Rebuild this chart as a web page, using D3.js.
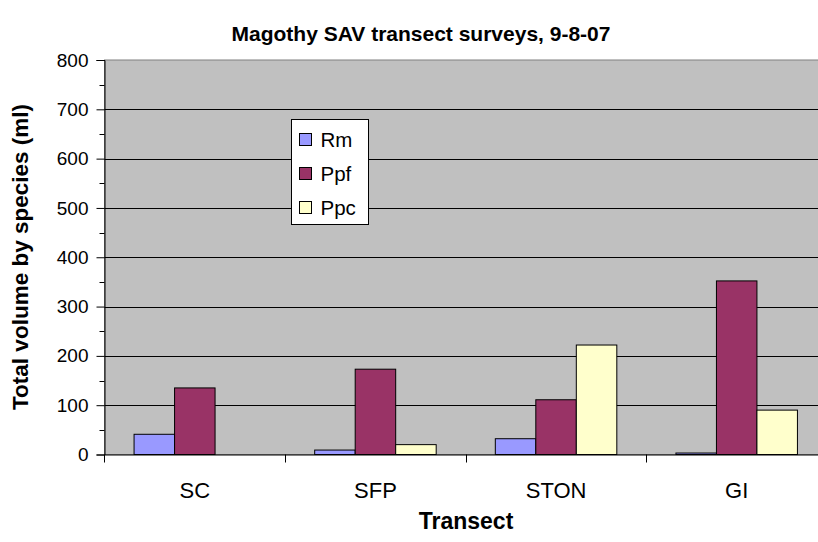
<!DOCTYPE html>
<html>
<head>
<meta charset="utf-8">
<script src="https://cdn.jsdelivr.net/npm/d3@7"></script>
<style>
  body { margin: 0; background: #fff; }
  svg { display: block; font-family: Arial, "Liberation Sans", sans-serif; }
</style>
</head>
<body>
<div id="chart"></div>
<script>
// chart data
var transects = ["SC", "SFP", "STON", "GI"];
var species = ["Rm", "Ppf", "Ppc"];
var rmValues = [41, 9, 32, 3];
var ppfValues = [135, 173, 111, 352];
var ppcValues = [0, 20, 222, 90];
var yTicks = [0, 100, 200, 300, 400, 500, 600, 700, 800];

var colors = { Rm: "#9999FF", Ppf: "#993366", Ppc: "#FFFFCC" };

var width = 818, height = 542;
var margin = { left: 104.5, top: 60, right: 827, bottom: 454.5 };
var font = "Arial, 'Liberation Sans', sans-serif";

var rows = transects.map(function(t, i) {
    return { transect: t, Rm: rmValues[i], Ppf: ppfValues[i], Ppc: ppcValues[i] };
});

var svg = d3.select("#chart").append("svg")
    .attr("width", width)
    .attr("height", height);

var x = d3.scaleBand()
    .domain(transects)
    .range([margin.left, margin.right]);

// excel gap width ~150%
var x1 = d3.scaleBand()
    .domain(species)
    .range([0, x.bandwidth()])
    .paddingOuter(0.73)
    .paddingInner(0);

var y = d3.scaleLinear()
    .domain([0, 800])
    .range([margin.bottom, margin.top]);

// plot background
svg.append("rect")
    .attr("x", margin.left)
    .attr("y", margin.top)
    .attr("width", margin.right - margin.left)
    .attr("height", margin.bottom - margin.top)
    .attr("fill", "#C0C0C0")
    .attr("stroke", "#808080")
    .attr("stroke-width", 1);

// gridlines
svg.append("g")
    .selectAll("line")
    .data(yTicks.slice(1, -1))
    .enter().append("line")
    .attr("x1", margin.left)
    .attr("x2", margin.right)
    .attr("y1", function(d) { return Math.round(y(d)) + 0.5; })
    .attr("y2", function(d) { return Math.round(y(d)) + 0.5; })
    .attr("stroke", "#000")
    .attr("stroke-width", 1);

// bars
var groups = svg.append("g")
    .selectAll("g")
    .data(rows)
    .enter().append("g")
    .attr("transform", function(d) { return "translate(" + x(d.transect) + ",0)"; });

groups.selectAll("rect")
    .data(function(d) { return species.map(function(s) { return { key: s, value: d[s] }; }); })
    .enter().append("rect")
    .filter(function(d) { return d.value > 0; })
    .attr("x", function(d) { return x1(d.key); })
    .attr("y", function(d) { return y(d.value); })
    .attr("width", x1.bandwidth())
    .attr("height", function(d) { return y(0) - y(d.value); })
    .attr("fill", function(d) { return colors[d.key]; })
    .attr("stroke", "#000")
    .attr("stroke-width", 1);

// y axis
var yAxis = svg.append("g")
    .attr("transform", "translate(" + margin.left + ",0)")
    .call(d3.axisLeft(y).tickValues(yTicks).tickSize(8).tickPadding(8).tickFormat(d3.format("d")));
yAxis.select(".domain").attr("stroke", "#000");
yAxis.selectAll("text").attr("font-size", "19px").attr("fill", "#000").attr("font-family", font);

// minor ticks
svg.append("g")
    .selectAll("line")
    .data(yTicks.slice(0, -1).map(function(d) { return d + 50; }))
    .enter().append("line")
    .attr("x1", margin.left - 5)
    .attr("x2", margin.left)
    .attr("y1", function(d) { return Math.round(y(d)) + 0.5; })
    .attr("y2", function(d) { return Math.round(y(d)) + 0.5; })
    .attr("stroke", "#000");

// x axis
var xAxis = svg.append("g")
    .attr("transform", "translate(0," + margin.bottom + ")")
    .call(d3.axisBottom(x).tickSize(0).tickPadding(28));
xAxis.select(".domain").attr("stroke", "#000");
xAxis.selectAll("text").attr("font-size", "22px").attr("fill", "#000").attr("font-family", font);

// category separator ticks
svg.append("g")
    .selectAll("line")
    .data(transects)
    .enter().append("line")
    .attr("x1", function(d) { return Math.round(x(d) + x.bandwidth()) + 0.5; })
    .attr("x2", function(d) { return Math.round(x(d) + x.bandwidth()) + 0.5; })
    .attr("y1", margin.bottom)
    .attr("y2", margin.bottom + 8)
    .attr("stroke", "#000");
svg.append("line")
    .attr("x1", margin.left).attr("x2", margin.left)
    .attr("y1", margin.bottom).attr("y2", margin.bottom + 8)
    .attr("stroke", "#000");

// titles
svg.append("text")
    .attr("x", 421)
    .attr("y", 41)
    .attr("text-anchor", "middle")
    .attr("font-size", "21px")
    .attr("font-weight", "bold")
    .text("Magothy SAV transect surveys, 9-8-07");

svg.append("text")
    .attr("x", 466)
    .attr("y", 529)
    .attr("text-anchor", "middle")
    .attr("font-size", "23px")
    .attr("font-weight", "bold")
    .text("Transect");

svg.append("text")
    .attr("transform", "translate(28,257) rotate(-90)")
    .attr("text-anchor", "middle")
    .attr("font-size", "22.5px")
    .attr("font-weight", "bold")
    .text("Total volume by species (ml)");

// legend
var legend = svg.append("g").attr("transform", "translate(291,119)");
legend.append("rect")
    .attr("x", 0.5).attr("y", 0.5)
    .attr("width", 77).attr("height", 105)
    .attr("fill", "#fff")
    .attr("stroke", "#000");

var item = legend.selectAll(".item")
    .data(species)
    .enter().append("g")
    .attr("class", "item")
    .attr("transform", function(d, i) { return "translate(0," + (21 + i * 34) + ")"; });

item.append("rect")
    .attr("x", 8.5).attr("y", -6.5)
    .attr("width", 12).attr("height", 12)
    .attr("fill", function(d) { return colors[d]; })
    .attr("stroke", "#000");

item.append("text")
    .attr("x", 29.5)
    .attr("y", 7)
    .attr("font-size", "20.5px")
    .text(function(d) { return d; });
</script>
</body>
</html>
